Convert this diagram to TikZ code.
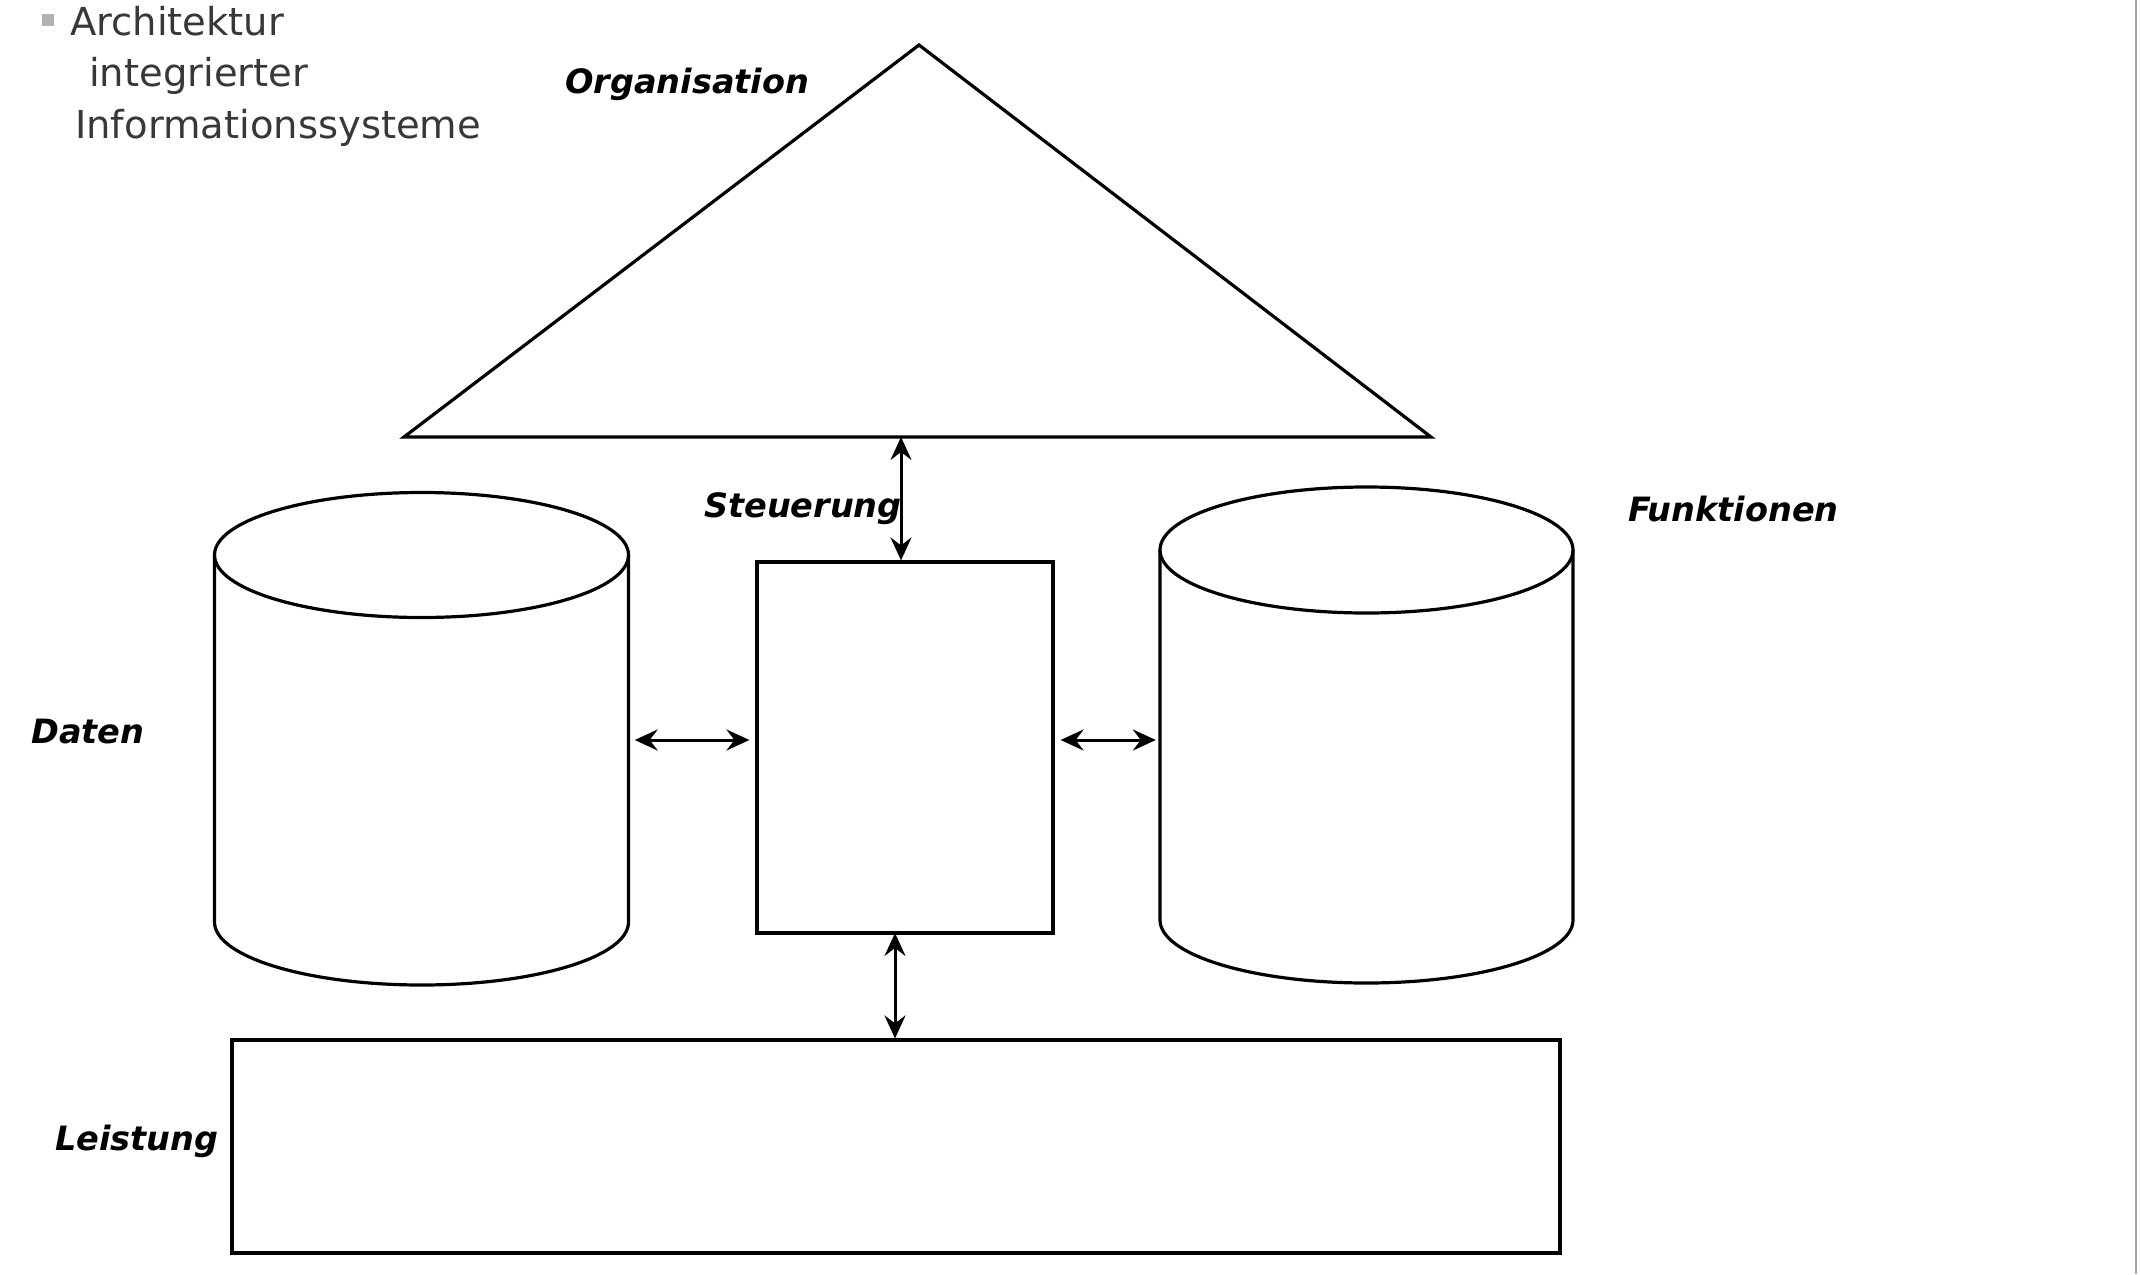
\documentclass[tikz,border=0pt]{standalone}
\usepackage{fontspec}
\setmainfont{DejaVu Sans}
\usetikzlibrary{arrows.meta,calc}
\begin{document}
\begin{tikzpicture}[x=1pt,y=-1pt,
  outl/.style={line width=3.2pt, line join=miter},
  lbl/.style={font=\fontsize{33.5}{38}\selectfont\bfseries\itshape, inner sep=0pt, anchor=west},
  hdr/.style={font=\fontsize{38.5}{44}\selectfont, text=black!78, inner sep=0pt, anchor=west},
  box/.style={draw, line width=3.2pt, inner sep=0pt},
  ghost/.style={draw=none, inner sep=0pt},
  link/.style={line width=3pt, {Stealth[length=23pt,width=21pt,inset=8pt]}-{Stealth[length=23pt,width=21pt,inset=8pt]}}
]
\useasboundingbox (0,0) rectangle (2140,1274);
\fill[white] (0,0) rectangle (2140,1274);
% right edge thin line
\draw[gray!70, line width=2pt] (2136,0) -- (2136,1274);

% header
\fill[gray!60] (42,14) rectangle (54,26);
\node[hdr] (h1) at (70,21) {Architektur};
\node[hdr] (h2) at (89,76) {integrierter};
\node[hdr] (h3) at (75,128) {Informationssysteme};

% triangle (Organisation)
\coordinate (apex) at (919,45);
\coordinate (tl) at (404,437);
\coordinate (tr) at (1431,437);
\draw[outl] (apex) -- (tl) -- (tr) -- cycle;
\coordinate (tbase) at (901,437);

% central rectangle
\node[box, minimum width=296pt, minimum height=371pt] (mid) at (905,747.5) {};

% left cylinder (Daten)
\draw[outl] (421.5,555) ellipse [x radius=207, y radius=62.5];
\draw[outl] (214.5,555) -- (214.5,922) arc[start angle=180,end angle=0,x radius=207,y radius=63] -- (628.5,555);
\node[ghost, minimum width=414pt, minimum height=495pt] (daten) at (421.5,740) {};

% right cylinder (Funktionen)
\draw[outl] (1366.5,550) ellipse [x radius=206.5, y radius=63];
\draw[outl] (1160,550) -- (1160,920) arc[start angle=180,end angle=0,x radius=206.5,y radius=63] -- (1573,550);
\node[ghost, minimum width=413pt, minimum height=496pt] (funk) at (1366.5,740) {};

% bottom rectangle (Leistung)
\node[box, minimum width=1328pt, minimum height=213pt] (leist) at (896,1146.5) {};

% connectors
\draw[link] (tbase) -- (mid.north -| tbase);
\coordinate (bt) at (895,933);
\draw[link] (bt) -- (leist.north -| bt);
\draw[link, shorten <=6pt, shorten >=6pt] (daten.east) -- (mid.west |- daten.east);
\draw[link, shorten <=6pt, shorten >=4pt] (mid.east |- funk.west) -- (funk.west);

% labels
\node[lbl] (lorg) at (565,84) {Organisation};
\node[lbl] (lst) at (704,509) {Steuerung};
\node[lbl] (lfk) at (1628,509) {Funktionen};
\node[lbl] (ldt) at (31,732) {Daten};
\node[lbl] (lls) at (55,1141) {Leistung};
\end{tikzpicture}
\end{document}
